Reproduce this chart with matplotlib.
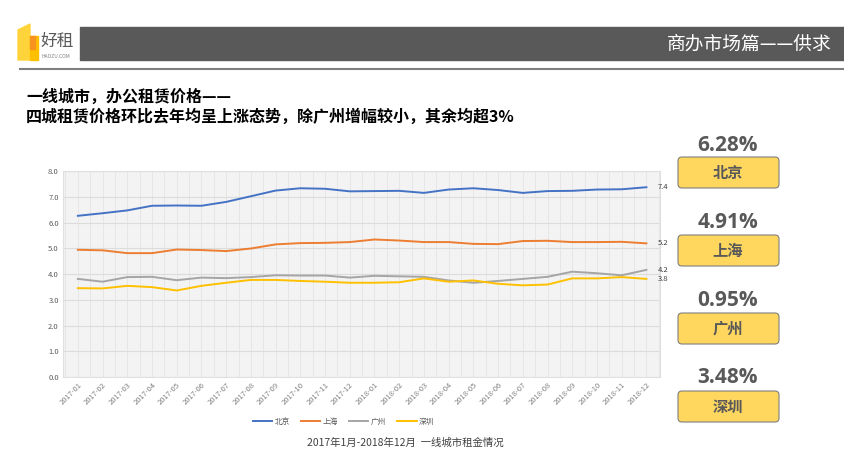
import matplotlib
matplotlib.use("Agg")
import matplotlib.pyplot as plt
from matplotlib.patches import FancyBboxPatch, Rectangle, Polygon

plt.rcParams['font.family'] = ['Noto Sans CJK SC', 'DejaVu Sans']

# 数据
months = ["2017-01", "2017-02", "2017-03", "2017-04", "2017-05", "2017-06",
          "2017-07", "2017-08", "2017-09", "2017-10", "2017-11", "2017-12",
          "2018-01", "2018-02", "2018-03", "2018-04", "2018-05", "2018-06",
          "2018-07", "2018-08", "2018-09", "2018-10", "2018-11", "2018-12"]
beijing = [6.26, 6.36, 6.47, 6.65, 6.66, 6.65, 6.80, 7.02, 7.24, 7.33, 7.31, 7.21,
           7.22, 7.23, 7.15, 7.28, 7.33, 7.26, 7.15, 7.22, 7.23, 7.28, 7.29, 7.37]
shanghai = [4.94, 4.92, 4.81, 4.81, 4.95, 4.93, 4.89, 4.99, 5.15, 5.20, 5.21, 5.24,
            5.34, 5.30, 5.24, 5.24, 5.17, 5.16, 5.28, 5.29, 5.24, 5.24, 5.25, 5.19]
guangzhou = [3.81, 3.70, 3.88, 3.89, 3.76, 3.86, 3.84, 3.88, 3.95, 3.94, 3.94, 3.86,
             3.93, 3.91, 3.89, 3.75, 3.66, 3.73, 3.81, 3.89, 4.09, 4.03, 3.95, 4.16]
shenzhen = [3.45, 3.44, 3.54, 3.49, 3.36, 3.54, 3.66, 3.77, 3.77, 3.73, 3.70, 3.66,
            3.66, 3.68, 3.83, 3.70, 3.75, 3.62, 3.56, 3.59, 3.83, 3.83, 3.88, 3.81]
cities = ["北京", "上海", "广州", "深圳"]
colors = ["#4472C4", "#ED7D31", "#A5A5A5", "#FFC000"]
growth = ["6.28%", "4.91%", "0.95%", "3.48%"]

W, H = 845, 473
fig = plt.figure(figsize=(W / 100, H / 100), dpi=100)
fig.patch.set_facecolor("white")

# 覆盖层（像素坐标）
ov = fig.add_axes([0, 0, 1, 1])
ov.set_xlim(0, W)
ov.set_ylim(H, 0)
ov.axis("off")

# 页眉
ov.add_patch(Rectangle((80, 27), W - 80, 33, color="#595959"))
ov.text(832, 44, "商办市场篇——供求", color="white", fontsize=13.5,
        ha="right", va="center")
ov.plot([20, W], [69, 69], color="#7f7f7f", lw=1.5)

# logo
ov.add_patch(Polygon([(18, 30), (30, 24), (30, 60), (18, 60)], color="#FFD43B"))
ov.add_patch(Polygon([(30, 36), (38, 36), (38, 60), (30, 60)], color="#FFC000"))
ov.add_patch(Rectangle((30, 36), 5, 13, color="#F7931E"))
ov.text(41, 41, "好租", color="#595959", fontsize=12, va="center")
ov.text(42, 56, "HAOZU.COM", color="#808080", fontsize=3.5, va="center")

# 标题
ov.text(26, 97, "一线城市，办公租赁价格——", fontsize=11.5, fontweight="bold",
        va="center", color="black")
ov.text(26, 117, "四城租赁价格环比去年均呈上涨态势，除广州增幅较小，其余均超3%",
        fontsize=11.5, fontweight="bold", va="center", color="black")

# 右侧涨幅卡片
pct_y = [145, 222, 300, 377]
box_y = [157, 235, 313, 391]
for city, g, py, by in zip(cities, growth, pct_y, box_y):
    ov.text(728, py, g, fontsize=15, fontweight="bold", color="#595959",
            ha="center", va="center", family="Open Sans")
    ov.add_patch(FancyBboxPatch((678, by), 101, 31,
                                boxstyle="round,pad=0,rounding_size=4",
                                facecolor="#FFD75E", edgecolor="#7f7f7f", lw=0.8))
    ov.text(728, by + 15.5, city, fontsize=11, fontweight="bold",
            color="#595959", ha="center", va="center")

# 图注
ov.text(405, 443, "2017年1月-2018年12月  一线城市租金情况", fontsize=7.5,
        color="#404040", ha="center", va="center")

# 主图
ax = fig.add_axes([63 / W, 1 - 377 / H, (660 - 63) / W, (377 - 171) / H])
ax.set_facecolor("#f3f3f3")
x = range(len(months))
series = [beijing, shanghai, guangzhou, shenzhen]
for name, vals, c in zip(cities, series, colors):
    ax.plot(x, vals, color=c, lw=1.4, label=name)
    ax.text(len(months) - 1 + 0.45, vals[-1], f"{vals[-1]:.1f}", fontsize=5.5,
            color="#404040", va="center", ha="left")
ax.set_xlim(-0.6, len(months) - 0.45)
ax.set_ylim(0, 8)
ax.set_yticks([i for i in range(9)])
ax.set_yticklabels([f"{i:.1f}" for i in range(9)], fontsize=5.5, color="#595959")
ax.set_xticks(list(x))
ax.set_xticklabels(months, rotation=45, fontsize=5.5, color="#808080",
                   ha="right", rotation_mode="anchor")
ax.set_xticks([i + 0.5 for i in range(-1, len(months))], minor=True)
ax.tick_params(length=0, pad=3)
ax.tick_params(which="minor", length=0)
ax.grid(True, which="major", axis="y", color="#dcdcdc", lw=0.8)
ax.grid(True, which="both", axis="x", color="#e4e4e4", lw=0.6)
ax.set_axisbelow(True)
for s in ax.spines.values():
    s.set_color("#e0e0e0")

ax.legend(loc="upper center", bbox_to_anchor=(0.47, -0.165), ncol=4, frameon=False,
          fontsize=5.5, handlelength=2.5, columnspacing=1.5, handletextpad=0.3,
          labelcolor="#595959")

fig.savefig("out.png", dpi=100)
